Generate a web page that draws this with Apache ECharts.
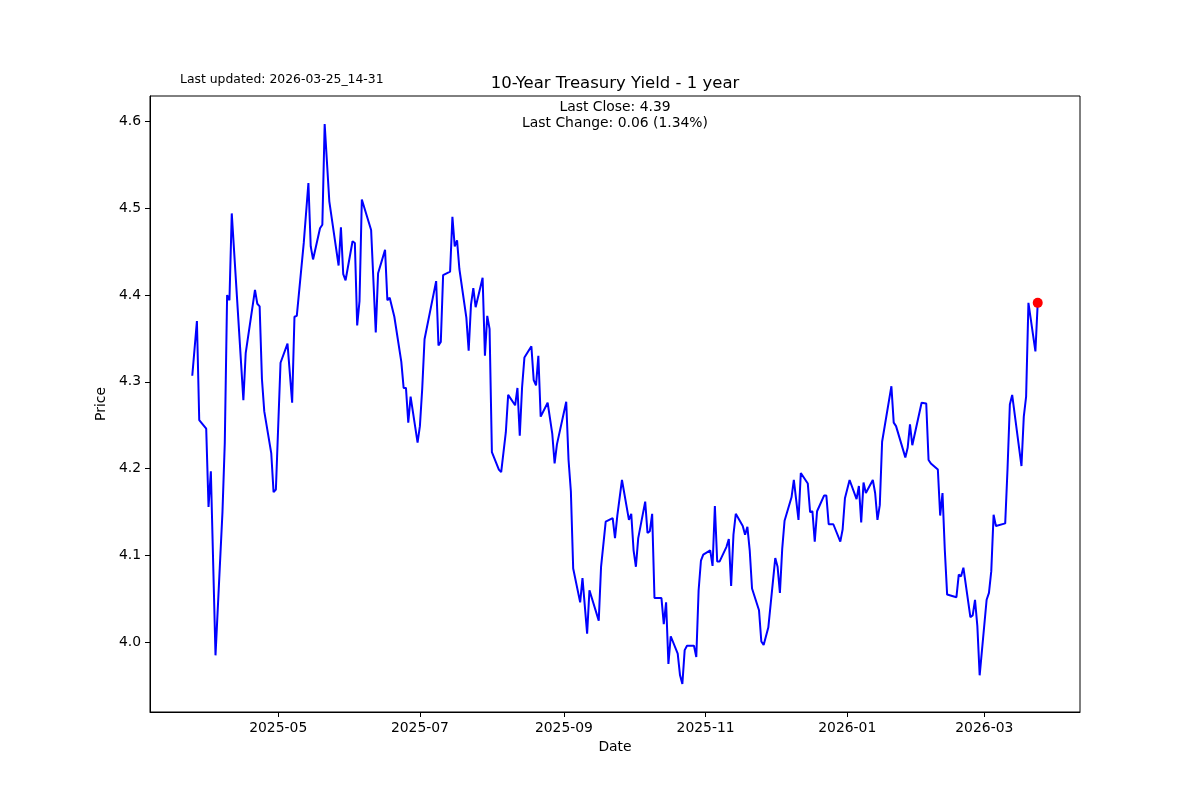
<!DOCTYPE html>
<html>
<head>
<meta charset="utf-8">
<title>10-Year Treasury Yield - 1 year</title>
<script src="https://cdn.jsdelivr.net/npm/echarts@6/dist/echarts.min.js"></script>
<style>
  html, body { margin: 0; padding: 0; background: #fff; }
  #chart { width: 1200px; height: 800px; }
</style>
</head>
<body>
<div id="chart"></div>
<script>
// trading days (only where the line bends)
var dates = [
  '2025-03-25', '2025-03-27', '2025-03-28', '2025-03-31',
  '2025-04-01', '2025-04-02', '2025-04-04', '2025-04-07', '2025-04-08', '2025-04-09', '2025-04-10', '2025-04-11',
  '2025-04-16', '2025-04-17', '2025-04-21', '2025-04-22', '2025-04-23', '2025-04-24', '2025-04-25', '2025-04-28',
  '2025-04-29', '2025-04-30',
  '2025-05-02', '2025-05-05', '2025-05-07', '2025-05-08', '2025-05-09', '2025-05-12', '2025-05-14', '2025-05-15',
  '2025-05-16', '2025-05-19', '2025-05-20', '2025-05-21', '2025-05-23', '2025-05-27', '2025-05-28', '2025-05-29',
  '2025-05-30',
  '2025-06-02', '2025-06-03', '2025-06-04', '2025-06-05', '2025-06-06', '2025-06-10', '2025-06-12', '2025-06-13',
  '2025-06-16', '2025-06-17', '2025-06-18', '2025-06-20', '2025-06-23', '2025-06-24', '2025-06-25', '2025-06-26',
  '2025-06-27', '2025-06-30',
  '2025-07-01', '2025-07-02', '2025-07-03', '2025-07-08', '2025-07-09', '2025-07-10', '2025-07-11', '2025-07-14',
  '2025-07-15', '2025-07-16', '2025-07-17', '2025-07-18', '2025-07-21', '2025-07-22', '2025-07-23', '2025-07-24',
  '2025-07-25', '2025-07-28', '2025-07-29', '2025-07-30', '2025-07-31',
  '2025-08-01', '2025-08-04', '2025-08-05', '2025-08-07', '2025-08-08', '2025-08-11', '2025-08-12', '2025-08-13',
  '2025-08-14', '2025-08-15', '2025-08-18', '2025-08-19', '2025-08-20', '2025-08-21', '2025-08-22', '2025-08-25',
  '2025-08-27', '2025-08-28', '2025-08-29',
  '2025-09-02', '2025-09-03', '2025-09-04', '2025-09-05', '2025-09-08', '2025-09-09', '2025-09-11', '2025-09-12',
  '2025-09-16', '2025-09-17', '2025-09-19', '2025-09-22', '2025-09-23', '2025-09-24', '2025-09-26', '2025-09-29',
  '2025-09-30',
  '2025-10-01', '2025-10-02', '2025-10-03', '2025-10-06', '2025-10-07', '2025-10-08', '2025-10-09', '2025-10-10',
  '2025-10-13', '2025-10-14', '2025-10-15', '2025-10-16', '2025-10-17', '2025-10-20', '2025-10-21', '2025-10-22',
  '2025-10-23', '2025-10-24', '2025-10-27', '2025-10-28', '2025-10-29', '2025-10-30', '2025-10-31',
  '2025-11-03', '2025-11-04', '2025-11-05', '2025-11-06', '2025-11-07', '2025-11-10', '2025-11-11', '2025-11-12',
  '2025-11-13', '2025-11-14', '2025-11-17', '2025-11-18', '2025-11-19', '2025-11-20', '2025-11-21', '2025-11-24',
  '2025-11-25', '2025-11-26', '2025-11-28',
  '2025-12-01', '2025-12-02', '2025-12-03', '2025-12-04', '2025-12-05', '2025-12-08', '2025-12-09', '2025-12-11',
  '2025-12-12', '2025-12-15', '2025-12-16', '2025-12-17', '2025-12-18', '2025-12-19', '2025-12-22', '2025-12-23',
  '2025-12-24', '2025-12-26', '2025-12-29', '2025-12-30', '2025-12-31',
  '2026-01-02', '2026-01-05', '2026-01-06', '2026-01-07', '2026-01-08', '2026-01-09', '2026-01-12', '2026-01-13',
  '2026-01-14', '2026-01-15', '2026-01-16', '2026-01-20', '2026-01-21', '2026-01-22', '2026-01-26', '2026-01-27',
  '2026-01-28', '2026-01-29',
  '2026-02-02', '2026-02-04', '2026-02-05', '2026-02-06', '2026-02-09', '2026-02-10', '2026-02-11', '2026-02-12',
  '2026-02-13', '2026-02-17', '2026-02-18', '2026-02-19', '2026-02-20', '2026-02-23', '2026-02-24', '2026-02-25',
  '2026-02-26', '2026-02-27',
  '2026-03-02', '2026-03-03', '2026-03-04', '2026-03-05', '2026-03-06', '2026-03-10', '2026-03-11', '2026-03-12',
  '2026-03-13', '2026-03-17', '2026-03-18', '2026-03-19', '2026-03-20', '2026-03-23', '2026-03-24'
];

var yields = [
  4.307, 4.370, 4.256, 4.246,
  4.156, 4.197, 3.985, 4.150, 4.230, 4.400, 4.394, 4.494,
  4.279, 4.333, 4.406, 4.390, 4.387, 4.303, 4.266, 4.218,
  4.173, 4.176,
  4.322, 4.344, 4.276, 4.375, 4.376, 4.460, 4.529, 4.456,
  4.441, 4.477, 4.481, 4.597, 4.508, 4.434, 4.478, 4.424,
  4.417,
  4.462, 4.460, 4.365, 4.393, 4.510, 4.475, 4.357, 4.425,
  4.452, 4.394, 4.397, 4.375, 4.323, 4.293, 4.293, 4.253,
  4.283, 4.230,
  4.249, 4.292, 4.349, 4.416, 4.342, 4.346, 4.423, 4.427,
  4.490, 4.456, 4.463, 4.430, 4.374, 4.336, 4.389, 4.408,
  4.386, 4.420, 4.330, 4.376, 4.361,
  4.219, 4.199, 4.196, 4.242, 4.285, 4.273, 4.293, 4.238,
  4.294, 4.328, 4.341, 4.302, 4.296, 4.330, 4.260, 4.276,
  4.240, 4.206, 4.228,
  4.277, 4.210, 4.174, 4.085, 4.046, 4.074, 4.010, 4.060,
  4.025, 4.087, 4.139, 4.143, 4.120, 4.146, 4.187, 4.141,
  4.148,
  4.106, 4.087, 4.120, 4.162, 4.126, 4.128, 4.148, 4.051,
  4.051, 4.021, 4.046, 3.975, 4.007, 3.987, 3.962, 3.952,
  3.991, 3.996, 3.996, 3.983, 4.060, 4.094, 4.101,
  4.106, 4.088, 4.157, 4.093, 4.093, 4.110, 4.119, 4.065,
  4.124, 4.148, 4.134, 4.124, 4.133, 4.106, 4.062, 4.037,
  4.001, 3.997, 4.017,
  4.097, 4.087, 4.057, 4.108, 4.140, 4.167, 4.187, 4.141,
  4.195, 4.183, 4.150, 4.151, 4.116, 4.151, 4.169, 4.169,
  4.136, 4.136, 4.116, 4.130, 4.166,
  4.187, 4.165, 4.180, 4.138, 4.184, 4.172, 4.187, 4.172,
  4.141, 4.158, 4.231, 4.295, 4.253, 4.249, 4.213, 4.224,
  4.251, 4.227,
  4.276, 4.275, 4.210, 4.206, 4.199, 4.146, 4.172, 4.106,
  4.055, 4.052, 4.078, 4.076, 4.086, 4.029, 4.031, 4.049,
  4.019, 3.962,
  4.049, 4.057, 4.082, 4.147, 4.134, 4.137, 4.200, 4.274,
  4.285, 4.203, 4.260, 4.283, 4.391, 4.335, 4.391
];

var xTicks = ['2025-05-01', '2025-07-01', '2025-09-01', '2025-11-01', '2026-01-01', '2026-03-01'];
var yTicks = [4.0, 4.1, 4.2, 4.3, 4.4, 4.5, 4.6];

var titleText = '10-Year Treasury Yield - 1 year';
var updatedText = 'Last updated: 2026-03-25_14-31';
var closeLines = ['Last Close: 4.39', 'Last Change: 0.06 (1.34%)'];

var FONT = 'DejaVu Sans';

function ts(s) {
  var p = s.split('-').map(Number);
  return new Date(p[0], p[1] - 1, p[2]).getTime();
}

var points = dates.map(function (d, i) {
  return [ts(d), yields[i]];
});
var last = points[points.length - 1];

// matplotlib style 5% margins
var xMin = points[0][0], xMax = last[0];
var xPad = (xMax - xMin) * 0.05;
var yLo = Math.min.apply(null, yields), yHi = Math.max.apply(null, yields);
var yPad = (yHi - yLo) * 0.05;

var chart = echarts.init(document.getElementById('chart'), null, { renderer: 'canvas' });

chart.setOption({
  animation: false,
  backgroundColor: '#fff',
  textStyle: { fontFamily: FONT, color: '#000' },
  title: [{
    text: titleText,
    left: 615,
    top: 75,
    textAlign: 'center',
    padding: 0,
    textStyle: { fontFamily: FONT, fontSize: 16.5, fontWeight: 'normal', color: '#000' }
  }, {
    text: updatedText,
    left: 180,
    top: 74,
    padding: 0,
    textStyle: { fontFamily: FONT, fontSize: 12.4, fontWeight: 'normal', color: '#000' }
  }, {
    text: closeLines.join('\n'),
    left: 615,
    top: 99,
    textAlign: 'center',
    padding: 0,
    textStyle: { fontFamily: FONT, fontSize: 13.9, fontWeight: 'normal', color: '#000', lineHeight: 16, align: 'center' }
  }],
  grid: {
    left: 150,
    right: 120,
    top: 96,
    bottom: 88,
    containLabel: false,
    outerBoundsMode: 'none',
    show: true,
    borderColor: '#000',
    borderWidth: 1,
    backgroundColor: 'transparent'
  },
  xAxis: {
    type: 'value',
    scale: true,
    min: xMin - xPad,
    max: xMax + xPad,
    name: 'Date',
    nameLocation: 'middle',
    nameGap: 28,
    nameTextStyle: { fontFamily: FONT, fontSize: 13.9, color: '#000' },
    axisLine: { show: true, onZero: false, lineStyle: { color: '#000', width: 1 } },
    axisTick: { show: true, length: 5, inside: false, lineStyle: { color: '#000', width: 1 }, customValues: xTicks.map(ts) },
    axisLabel: {
      show: true,
      margin: 9,
      color: '#000',
      fontFamily: FONT,
      fontSize: 13.9,
      customValues: xTicks.map(ts),
      formatter: function (v) {
        var d = new Date(v);
        var m = d.getMonth() + 1;
        return d.getFullYear() + '-' + (m < 10 ? '0' + m : m);
      }
    },
    splitLine: { show: false }
  },
  yAxis: {
    type: 'value',
    scale: true,
    min: yLo - yPad,
    max: yHi + yPad,
    name: 'Price',
    nameLocation: 'middle',
    nameGap: 40,
    nameRotate: 90,
    nameTextStyle: { fontFamily: FONT, fontSize: 13.9, color: '#000' },
    axisLine: { show: true, onZero: false, lineStyle: { color: '#000', width: 1 } },
    axisTick: { show: true, length: 5, inside: false, lineStyle: { color: '#000', width: 1 }, customValues: yTicks },
    axisLabel: {
      show: true,
      margin: 9,
      color: '#000',
      fontFamily: FONT,
      fontSize: 13.9,
      customValues: yTicks,
      formatter: function (v) { return Number(v).toFixed(1); }
    },
    splitLine: { show: false }
  },
  series: [{
    type: 'line',
    data: points,
    showSymbol: false,
    symbol: 'none',
    lineStyle: { color: '#0000ff', width: 2 },
    itemStyle: { color: '#0000ff' },
    z: 2
  }, {
    type: 'scatter',
    data: [last],
    symbol: 'circle',
    symbolSize: 10,
    itemStyle: { color: '#ff0000', opacity: 1 },
    z: 3
  }]
});
</script>
</body>
</html>
